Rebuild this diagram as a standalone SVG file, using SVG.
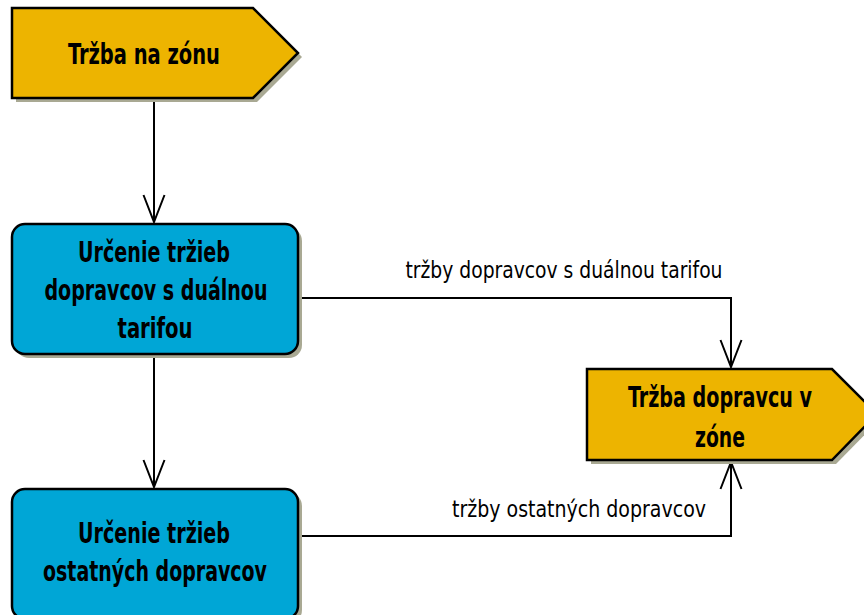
<svg xmlns="http://www.w3.org/2000/svg" width="864" height="615" viewBox="0 0 864 615">
<defs>
<style>
.y{fill:#EDB400;stroke:#000;stroke-width:2.5}
.b{fill:#00A6D6;stroke:#000;stroke-width:2.5}
.sh{fill:#A9A993}
.t{font-family:"Liberation Sans Narrow","DejaVu Sans Condensed",sans-serif;font-stretch:condensed;font-weight:bold;font-size:28px;text-anchor:middle;fill:#000}
.l{font-family:"Liberation Sans Narrow","DejaVu Sans Condensed",sans-serif;font-stretch:condensed;font-size:23px;text-anchor:middle;fill:#000}
.c{fill:none;stroke:#000;stroke-width:2}
</style>
<marker id="a" viewBox="0 0 30 24" refX="28" refY="12" markerWidth="30" markerHeight="24" markerUnits="userSpaceOnUse" orient="auto">
<path d="M1,1.5 L28,12 L1,22.5" fill="none" stroke="#000" stroke-width="2"/>
</marker>
</defs>
<rect width="864" height="615" fill="#fff"/>
<g id="connectors">
<path class="c" d="M154,98 V222" marker-end="url(#a)"/>
<path class="c" d="M154,354 V487" marker-end="url(#a)"/>
<path class="c" d="M298,298 H731 V367" marker-end="url(#a)"/>
<path class="c" d="M298,536 H731 V462" marker-end="url(#a)"/>
<text class="l" x="564" y="278" textLength="317" lengthAdjust="spacingAndGlyphs">tržby dopravcov s duálnou tarifou</text>
<text class="l" x="579" y="517" textLength="254" lengthAdjust="spacingAndGlyphs">tržby ostatných dopravcov</text>
</g>
<g id="n1">
<polygon class="sh" points="16,12 257,12 302,57 257,102 16,102"/>
<polygon class="y" points="12,8 253,8 298,53 253,98 12,98"/>
<text class="t" x="144" y="64" textLength="152" lengthAdjust="spacingAndGlyphs">Tržba na zónu</text>
</g>
<g id="n2">
<rect class="sh" x="16" y="228" width="286" height="130" rx="13"/>
<rect class="b" x="12" y="224" width="286" height="130" rx="13"/>
<text class="t" x="154" y="262" textLength="152" lengthAdjust="spacingAndGlyphs">Určenie tržieb</text>
<text class="t" x="156" y="300" textLength="223" lengthAdjust="spacingAndGlyphs">dopravcov s duálnou</text>
<text class="t" x="155" y="338" textLength="75" lengthAdjust="spacingAndGlyphs">tarifou</text>
</g>
<g id="n3">
<rect class="sh" x="16" y="493" width="286" height="130" rx="13"/>
<rect class="b" x="12" y="489" width="286" height="130" rx="13"/>
<text class="t" x="154" y="543" textLength="152" lengthAdjust="spacingAndGlyphs">Určenie tržieb</text>
<text class="t" x="155" y="581" textLength="224" lengthAdjust="spacingAndGlyphs">ostatných dopravcov</text>
</g>
<g id="n4">
<polygon class="sh" points="591,373 836,373 881,418 836,464 591,464"/>
<polygon class="y" points="587,369 832,369 877,414 832,460 587,460"/>
<text class="t" x="720" y="407" textLength="184" lengthAdjust="spacingAndGlyphs">Tržba dopravcu v</text>
<text class="t" x="720" y="447" textLength="50" lengthAdjust="spacingAndGlyphs">zóne</text>
</g>
</svg>
